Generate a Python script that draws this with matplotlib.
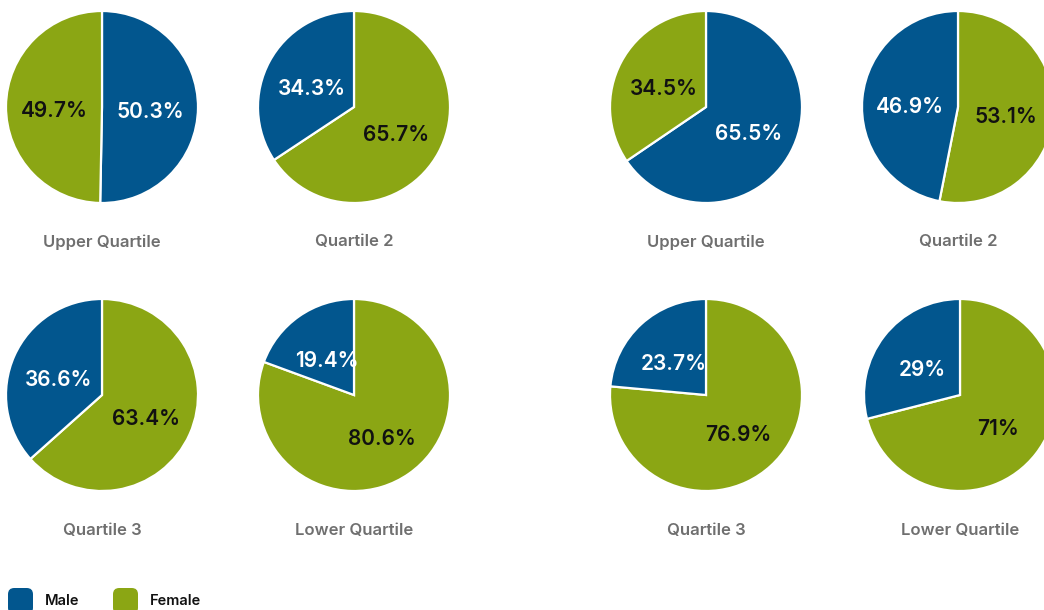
import matplotlib
matplotlib.use("Agg")
import matplotlib.pyplot as plt
from matplotlib.patches import FancyBboxPatch

plt.rcParams['font.family'] = ['Inter', 'DejaVu Sans']

categories = ["Male", "Female"]
quartiles = ["Upper Quartile", "Quartile 2", "Quartile 3", "Lower Quartile"]
group_a_male = [50.3, 34.3, 36.6, 19.4]
group_a_female = [49.7, 65.7, 63.4, 80.6]
group_b_male = [65.5, 46.9, 23.7, 29]
group_b_female = [34.5, 53.1, 76.9, 71]

BLUE = "#02568E"
GREEN = "#8BA614"
GREY = "#6F6F6F"

W, H, DPI = 1044, 610, 100
fig = plt.figure(figsize=(W / DPI, H / DPI), dpi=DPI)
fig.patch.set_facecolor("white")

R = 96
col_x = [[102, 354], [706, 958]]
row_y = [107, 395]
label_y = [242, 530]


def fmt(v):
    s = f"{v:.1f}"
    if s.endswith(".0"):
        s = s[:-2]
    return s + "%"


def draw_pie(cx, cy, male, female, title, ly):
    ax = fig.add_axes([(cx - R) / W, (H - cy - R) / H, 2 * R / W, 2 * R / H])
    vals = [male, female]
    cols = [BLUE, GREEN]
    order = sorted(range(2), key=lambda i: -vals[i])
    v = [vals[i] for i in order]
    c = [cols[i] for i in order]
    wedges, texts = ax.pie(v, colors=c, startangle=90, counterclock=False,
                           radius=1, wedgeprops=dict(edgecolor="white", linewidth=1.6),
                           labels=[fmt(x) for x in v], labeldistance=0.5)
    for t, col in zip(texts, c):
        x, y = t.get_position()
        t.set_position((x, y - 0.03))
        t.set_ha("center")
        t.set_va("center_baseline")
        t.set_fontsize(15)
        t.set_fontweight("semibold")
        t.set_color("white" if col == BLUE else "#111111")
    ax.set_xlim(-1, 1)
    ax.set_ylim(-1, 1)
    ax.set_aspect("equal")
    ax.axis("off")
    fig.text(cx / W, 1 - ly / H, title, ha="center", va="center",
             fontsize=12, fontweight="semibold", color=GREY)


groups = [(group_a_male, group_a_female), (group_b_male, group_b_female)]
for g, (males, females) in enumerate(groups):
    for k in range(4):
        r, c = divmod(k, 2)
        cx = col_x[g][c]
        if g == 1 and k == 3:
            cx = 960
        draw_pie(cx, row_y[r], males[k], females[k], quartiles[k], label_y[r])

# legend
leg_items = [(categories[0], BLUE, 8, 45), (categories[1], GREEN, 113, 150)]
for name, col, x0, tx in leg_items:
    box = FancyBboxPatch((x0 / W, 1 - 614 / H), 25 / W, 26 / H,
                         boxstyle="round,pad=0,rounding_size=0.006",
                         transform=fig.transFigure, facecolor=col, edgecolor="none",
                         mutation_aspect=W / H)
    fig.patches.append(box)
    fig.text(tx / W, 1 - 601 / H, name, ha="left", va="center",
             fontsize=10.5, fontweight="semibold", color="#111111")

fig.savefig("out.png", dpi=DPI, facecolor="white")
